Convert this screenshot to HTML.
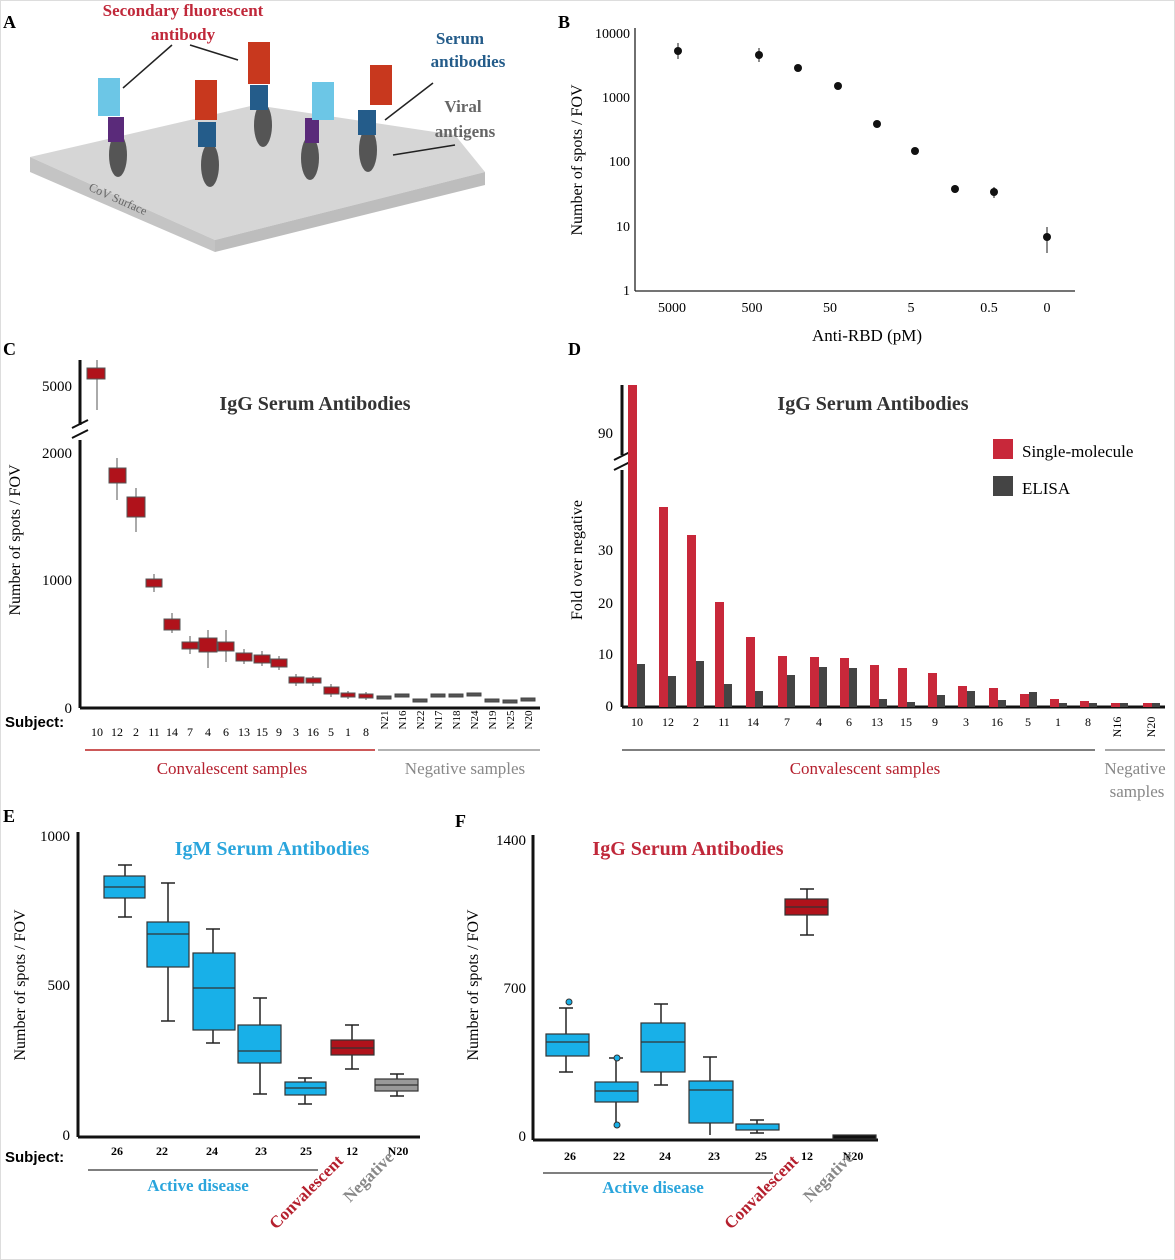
<!DOCTYPE html>
<html><head><meta charset="utf-8"><style>
body{margin:0;background:#fff}
svg{display:block;font-family:"Liberation Serif",serif}
</style></head><body>
<svg width="1175" height="1260" viewBox="0 0 1175 1260" xmlns="http://www.w3.org/2000/svg">
<rect x="0.5" y="0.5" width="1174" height="1259" fill="#fff" stroke="#ddd"/>
<g font-weight="bold" font-size="18">
<text x="3" y="28">A</text><text x="558" y="28">B</text><text x="3" y="355">C</text><text x="568" y="355">D</text><text x="3" y="822">E</text><text x="455" y="827">F</text>
</g>
<!-- Panel A -->
<polygon points="30,157 255,105 455,135 485,172 215,240" fill="#d6d6d6"/>
<polygon points="30,157 215,240 215,252 30,172" fill="#c4c4c4"/>
<polygon points="215,240 485,172 485,185 215,252" fill="#bdbdbd"/>
<text x="88" y="190" font-size="12" fill="#666" transform="rotate(24 88 190)">CoV Surface</text>
<g font-weight="bold" font-size="17">
<text x="183" y="16" fill="#c0283a" text-anchor="middle">Secondary fluorescent</text>
<text x="183" y="40" fill="#c0283a" text-anchor="middle">antibody</text>
<text x="460" y="44" fill="#245c8a" text-anchor="middle">Serum</text>
<text x="468" y="67" fill="#245c8a" text-anchor="middle">antibodies</text>
<text x="463" y="112" fill="#666" text-anchor="middle">Viral</text>
<text x="465" y="137" fill="#666" text-anchor="middle">antigens</text>
</g>
<g stroke="#222" stroke-width="1.5">
<line x1="172" y1="45" x2="123" y2="88"/><line x1="190" y1="45" x2="238" y2="60"/>
<line x1="433" y1="83" x2="385" y2="120"/><line x1="455" y1="145" x2="393" y2="155"/>
</g>
<g>
<g fill="#555"><ellipse cx="118" cy="155" rx="9" ry="22"/><ellipse cx="210" cy="165" rx="9" ry="22"/><ellipse cx="263" cy="125" rx="9" ry="22"/><ellipse cx="310" cy="158" rx="9" ry="22"/><ellipse cx="368" cy="150" rx="9" ry="22"/></g>
<g fill="#5a2a7a"><rect x="108" y="117" width="16" height="25"/><rect x="305" y="118" width="14" height="25"/></g>
<g fill="#245c8a"><rect x="198" y="122" width="18" height="25"/><rect x="250" y="85" width="18" height="25"/><rect x="358" y="110" width="18" height="25"/></g>
<g fill="#6cc6e6"><rect x="98" y="78" width="22" height="38"/><rect x="312" y="82" width="22" height="38"/></g>
<g fill="#c8381e"><rect x="195" y="80" width="22" height="40"/><rect x="248" y="42" width="22" height="42"/><rect x="370" y="65" width="22" height="40"/></g>
</g>
<!-- Panel B -->
<g stroke="#222" stroke-width="1.3" fill="none"><line x1="635" y1="28" x2="635" y2="291"/><line x1="635" y1="291" x2="1075" y2="291"/></g>
<g font-size="14" text-anchor="end"><text x="630" y="38">10000</text><text x="630" y="102">1000</text><text x="630" y="166">100</text><text x="630" y="231">10</text><text x="630" y="295">1</text></g>
<text transform="translate(582 160) rotate(-90)" font-size="16" text-anchor="middle">Number of spots / FOV</text>
<g font-size="14" text-anchor="middle"><text x="672" y="312">5000</text><text x="752" y="312">500</text><text x="830" y="312">50</text><text x="911" y="312">5</text><text x="989" y="312">0.5</text><text x="1047" y="312">0</text></g>
<text x="867" y="341" font-size="17" text-anchor="middle">Anti-RBD (pM)</text>
<g stroke="#666" stroke-width="1.5"><line x1="678" y1="43" x2="678" y2="59"/><line x1="759" y1="48" x2="759" y2="62"/><line x1="1047" y1="227" x2="1047" y2="253"/><line x1="955" y1="185" x2="955" y2="193"/><line x1="994" y1="187" x2="994" y2="198"/></g>
<g fill="#111"><circle cx="678" cy="51" r="4"/><circle cx="759" cy="55" r="4"/><circle cx="798" cy="68" r="4"/><circle cx="838" cy="86" r="4"/><circle cx="877" cy="124" r="4"/><circle cx="915" cy="151" r="4"/><circle cx="955" cy="189" r="4"/><circle cx="994" cy="192" r="4"/><circle cx="1047" cy="237" r="4"/></g>
<!-- Panel C -->
<g stroke="#111" stroke-width="3"><line x1="80" y1="360" x2="80" y2="425"/><line x1="80" y1="440" x2="80" y2="708"/><line x1="80" y1="708" x2="540" y2="708"/></g>
<g stroke="#111" stroke-width="2"><line x1="72" y1="428" x2="88" y2="420"/><line x1="72" y1="438" x2="88" y2="430"/></g>
<g font-size="15" text-anchor="end"><text x="72" y="391">5000</text><text x="72" y="458">2000</text><text x="72" y="585">1000</text><text x="72" y="713">0</text></g>
<text transform="translate(20 540) rotate(-90)" font-size="16" text-anchor="middle">Number of spots / FOV</text>
<text x="315" y="410" font-size="20" font-weight="bold" fill="#333" text-anchor="middle">IgG Serum Antibodies</text>
<text x="5" y="727" font-size="15" font-weight="bold" font-family="Liberation Sans,sans-serif">Subject:</text>
<g font-size="12" text-anchor="middle">
<text x="97" y="736">10</text><text x="117" y="736">12</text><text x="136" y="736">2</text><text x="154" y="736">11</text><text x="172" y="736">14</text><text x="190" y="736">7</text><text x="208" y="736">4</text><text x="226" y="736">6</text><text x="244" y="736">13</text><text x="262" y="736">15</text><text x="279" y="736">9</text><text x="296" y="736">3</text><text x="313" y="736">16</text><text x="331" y="736">5</text><text x="348" y="736">1</text><text x="366" y="736">8</text>
</g>
<g font-size="11" text-anchor="middle">
<text transform="translate(388 720) rotate(-90)">N21</text><text transform="translate(406 720) rotate(-90)">N16</text><text transform="translate(424 720) rotate(-90)">N22</text><text transform="translate(442 720) rotate(-90)">N17</text><text transform="translate(460 720) rotate(-90)">N18</text><text transform="translate(478 720) rotate(-90)">N24</text><text transform="translate(496 720) rotate(-90)">N19</text><text transform="translate(514 720) rotate(-90)">N25</text><text transform="translate(532 720) rotate(-90)">N20</text>
</g>
<line x1="85" y1="750" x2="375" y2="750" stroke="#b22" stroke-width="1.5"/>
<line x1="378" y1="750" x2="540" y2="750" stroke="#999" stroke-width="1.5"/>
<text x="232" y="774" font-size="17" fill="#b5202e" text-anchor="middle">Convalescent samples</text>
<text x="465" y="774" font-size="17" fill="#888" text-anchor="middle">Negative samples</text>
<g fill="#b0121b" stroke="#555" stroke-width="1">
<line x1="97" y1="360" x2="97" y2="410"/><rect x="87" y="368" width="18" height="11"/>
<line x1="117" y1="458" x2="117" y2="500"/><rect x="109" y="468" width="17" height="15"/>
<line x1="136" y1="488" x2="136" y2="532"/><rect x="127" y="497" width="18" height="20"/>
<line x1="154" y1="574" x2="154" y2="592"/><rect x="146" y="579" width="16" height="8"/>
<line x1="172" y1="613" x2="172" y2="633"/><rect x="164" y="619" width="16" height="11"/>
<line x1="190" y1="636" x2="190" y2="654"/><rect x="182" y="642" width="16" height="7"/>
<line x1="208" y1="630" x2="208" y2="668"/><rect x="199" y="638" width="18" height="14"/>
<line x1="226" y1="630" x2="226" y2="662"/><rect x="218" y="642" width="16" height="9"/>
<line x1="244" y1="649" x2="244" y2="664"/><rect x="236" y="653" width="16" height="8"/>
<line x1="262" y1="651" x2="262" y2="666"/><rect x="254" y="655" width="16" height="8"/>
<line x1="279" y1="656" x2="279" y2="670"/><rect x="271" y="659" width="16" height="8"/>
<line x1="296" y1="674" x2="296" y2="686"/><rect x="289" y="677" width="15" height="6"/>
<line x1="313" y1="676" x2="313" y2="686"/><rect x="306" y="678" width="15" height="5"/>
<line x1="331" y1="684" x2="331" y2="697"/><rect x="324" y="687" width="15" height="7"/>
<line x1="348" y1="691" x2="348" y2="699"/><rect x="341" y="693" width="14" height="4"/>
<line x1="366" y1="692" x2="366" y2="700"/><rect x="359" y="694" width="14" height="4"/>
</g>
<g fill="#555" stroke="#444">
<rect x="377" y="696" width="14" height="3"/><rect x="395" y="694" width="14" height="3"/><rect x="413" y="699" width="14" height="3"/><rect x="431" y="694" width="14" height="3"/><rect x="449" y="694" width="14" height="3"/><rect x="467" y="693" width="14" height="3"/><rect x="485" y="699" width="14" height="3"/><rect x="503" y="700" width="14" height="3"/><rect x="521" y="698" width="14" height="3"/>
</g>
<!-- Panel D -->
<g stroke="#111" stroke-width="3"><line x1="622" y1="385" x2="622" y2="455"/><line x1="622" y1="470" x2="622" y2="707"/><line x1="622" y1="707" x2="1165" y2="707"/></g>
<g stroke="#111" stroke-width="2"><line x1="614" y1="460" x2="630" y2="452"/><line x1="614" y1="470" x2="630" y2="462"/></g>
<g font-size="15" text-anchor="end"><text x="613" y="438">90</text><text x="613" y="555">30</text><text x="613" y="608">20</text><text x="613" y="659">10</text><text x="613" y="711">0</text></g>
<text transform="translate(582 560) rotate(-90)" font-size="16" text-anchor="middle">Fold over negative</text>
<text x="873" y="410" font-size="20" font-weight="bold" fill="#333" text-anchor="middle">IgG Serum Antibodies</text>
<rect x="993" y="439" width="20" height="20" fill="#c8283a"/><text x="1022" y="457" font-size="17">Single-molecule</text>
<rect x="993" y="476" width="20" height="20" fill="#444"/><text x="1022" y="494" font-size="17">ELISA</text>
<g fill="#c8283a">
<rect x="628" y="385" width="9" height="322"/><rect x="659" y="507" width="9" height="200"/><rect x="687" y="535" width="9" height="172"/><rect x="715" y="602" width="9" height="105"/><rect x="746" y="637" width="9" height="70"/><rect x="778" y="656" width="9" height="51"/><rect x="810" y="657" width="9" height="50"/><rect x="840" y="658" width="9" height="49"/><rect x="870" y="665" width="9" height="42"/><rect x="898" y="668" width="9" height="39"/><rect x="928" y="673" width="9" height="34"/><rect x="958" y="686" width="9" height="21"/><rect x="989" y="688" width="9" height="19"/><rect x="1020" y="694" width="9" height="13"/><rect x="1050" y="699" width="9" height="8"/><rect x="1080" y="701" width="9" height="6"/><rect x="1111" y="703" width="9" height="4"/><rect x="1143" y="703" width="9" height="4"/>
</g>
<g fill="#444">
<rect x="637" y="664" width="8" height="43"/><rect x="668" y="676" width="8" height="31"/><rect x="696" y="661" width="8" height="46"/><rect x="724" y="684" width="8" height="23"/><rect x="755" y="691" width="8" height="16"/><rect x="787" y="675" width="8" height="32"/><rect x="819" y="667" width="8" height="40"/><rect x="849" y="668" width="8" height="39"/><rect x="879" y="699" width="8" height="8"/><rect x="907" y="702" width="8" height="5"/><rect x="937" y="695" width="8" height="12"/><rect x="967" y="691" width="8" height="16"/><rect x="998" y="700" width="8" height="7"/><rect x="1029" y="692" width="8" height="15"/><rect x="1059" y="703" width="8" height="4"/><rect x="1089" y="703" width="8" height="4"/><rect x="1120" y="703" width="8" height="4"/><rect x="1152" y="703" width="8" height="4"/>
</g>
<g font-size="12" text-anchor="middle">
<text x="637" y="726">10</text><text x="668" y="726">12</text><text x="696" y="726">2</text><text x="724" y="726">11</text><text x="753" y="726">14</text><text x="787" y="726">7</text><text x="819" y="726">4</text><text x="849" y="726">6</text><text x="877" y="726">13</text><text x="906" y="726">15</text><text x="935" y="726">9</text><text x="966" y="726">3</text><text x="997" y="726">16</text><text x="1028" y="726">5</text><text x="1058" y="726">1</text><text x="1088" y="726">8</text>
<text transform="translate(1121 727) rotate(-90)">N16</text><text transform="translate(1155 727) rotate(-90)">N20</text>
</g>
<line x1="622" y1="750" x2="1095" y2="750" stroke="#555" stroke-width="1.5"/>
<line x1="1105" y1="750" x2="1165" y2="750" stroke="#888" stroke-width="1.5"/>
<text x="865" y="774" font-size="17" fill="#b5202e" text-anchor="middle">Convalescent samples</text>
<text x="1135" y="774" font-size="17" fill="#888" text-anchor="middle">Negative</text>
<text x="1137" y="797" font-size="17" fill="#888" text-anchor="middle">samples</text>
<!-- Panel E -->
<g stroke="#111" stroke-width="3"><line x1="78" y1="832" x2="78" y2="1137"/><line x1="78" y1="1137" x2="420" y2="1137"/></g>
<g font-size="15" text-anchor="end"><text x="70" y="841">1000</text><text x="70" y="990">500</text><text x="70" y="1140">0</text></g>
<text transform="translate(25 985) rotate(-90)" font-size="16" text-anchor="middle">Number of spots / FOV</text>
<text x="272" y="855" font-size="20" font-weight="bold" fill="#2aa5dc" text-anchor="middle">IgM Serum Antibodies</text>
<text x="5" y="1162" font-size="15" font-weight="bold" font-family="Liberation Sans,sans-serif">Subject:</text>
<g font-size="12" font-weight="bold" text-anchor="middle"><text x="117" y="1155">26</text><text x="162" y="1155">22</text><text x="212" y="1155">24</text><text x="261" y="1155">23</text><text x="306" y="1155">25</text><text x="352" y="1155">12</text><text x="398" y="1155">N20</text></g>
<line x1="88" y1="1170" x2="318" y2="1170" stroke="#555" stroke-width="1.5"/>
<text x="198" y="1191" font-size="17" font-weight="bold" fill="#2aa5dc" text-anchor="middle">Active disease</text>
<text transform="translate(276 1230) rotate(-45)" font-size="17" font-weight="bold" fill="#b5202e">Convalescent</text>
<text transform="translate(350 1203) rotate(-45)" font-size="17" font-weight="bold" fill="#888">Negative</text>
<g stroke="#222" stroke-width="1.5">
<line x1="125" y1="865" x2="125" y2="917"/><line x1="118" y1="865" x2="132" y2="865"/><line x1="118" y1="917" x2="132" y2="917"/>
<line x1="168" y1="883" x2="168" y2="1021"/><line x1="161" y1="883" x2="175" y2="883"/><line x1="161" y1="1021" x2="175" y2="1021"/>
<line x1="213" y1="929" x2="213" y2="1043"/><line x1="206" y1="929" x2="220" y2="929"/><line x1="206" y1="1043" x2="220" y2="1043"/>
<line x1="260" y1="998" x2="260" y2="1094"/><line x1="253" y1="998" x2="267" y2="998"/><line x1="253" y1="1094" x2="267" y2="1094"/>
<line x1="305" y1="1078" x2="305" y2="1104"/><line x1="298" y1="1078" x2="312" y2="1078"/><line x1="298" y1="1104" x2="312" y2="1104"/>
<line x1="352" y1="1025" x2="352" y2="1069"/><line x1="345" y1="1025" x2="359" y2="1025"/><line x1="345" y1="1069" x2="359" y2="1069"/>
<line x1="397" y1="1074" x2="397" y2="1096"/><line x1="390" y1="1074" x2="404" y2="1074"/><line x1="390" y1="1096" x2="404" y2="1096"/>
</g>
<g stroke="#333" stroke-width="1.2">
<rect x="104" y="876" width="41" height="22" fill="#18b0e8"/><line x1="104" y1="887" x2="145" y2="887"/>
<rect x="147" y="922" width="42" height="45" fill="#18b0e8"/><line x1="147" y1="934" x2="189" y2="934"/>
<rect x="193" y="953" width="42" height="77" fill="#18b0e8"/><line x1="193" y1="988" x2="235" y2="988"/>
<rect x="238" y="1025" width="43" height="38" fill="#18b0e8"/><line x1="238" y1="1051" x2="281" y2="1051"/>
<rect x="285" y="1082" width="41" height="13" fill="#18b0e8"/><line x1="285" y1="1088" x2="326" y2="1088"/>
<rect x="331" y="1040" width="43" height="15" fill="#b0121b"/><line x1="331" y1="1048" x2="374" y2="1048"/>
<rect x="375" y="1079" width="43" height="12" fill="#999"/><line x1="375" y1="1085" x2="418" y2="1085"/>
</g>
<!-- Panel F -->
<g stroke="#111" stroke-width="3"><line x1="533" y1="835" x2="533" y2="1140"/><line x1="533" y1="1140" x2="878" y2="1140"/></g>
<g font-size="15" text-anchor="end"><text x="526" y="845">1400</text><text x="526" y="993">700</text><text x="526" y="1141">0</text></g>
<text transform="translate(478 985) rotate(-90)" font-size="16" text-anchor="middle">Number of spots / FOV</text>
<text x="688" y="855" font-size="20" font-weight="bold" fill="#c0283a" text-anchor="middle">IgG Serum Antibodies</text>
<g font-size="12" font-weight="bold" text-anchor="middle"><text x="570" y="1160">26</text><text x="619" y="1160">22</text><text x="665" y="1160">24</text><text x="714" y="1160">23</text><text x="761" y="1160">25</text><text x="807" y="1160">12</text><text x="853" y="1160">N20</text></g>
<line x1="543" y1="1173" x2="773" y2="1173" stroke="#555" stroke-width="1.5"/>
<text x="653" y="1193" font-size="17" font-weight="bold" fill="#2aa5dc" text-anchor="middle">Active disease</text>
<text transform="translate(731 1230) rotate(-45)" font-size="17" font-weight="bold" fill="#b5202e">Convalescent</text>
<text transform="translate(810 1203) rotate(-45)" font-size="17" font-weight="bold" fill="#888">Negative</text>
<g stroke="#222" stroke-width="1.5">
<line x1="566" y1="1008" x2="566" y2="1072"/><line x1="559" y1="1008" x2="573" y2="1008"/><line x1="559" y1="1072" x2="573" y2="1072"/>
<line x1="616" y1="1058" x2="616" y2="1124"/><line x1="609" y1="1058" x2="623" y2="1058"/>
<line x1="661" y1="1004" x2="661" y2="1085"/><line x1="654" y1="1004" x2="668" y2="1004"/><line x1="654" y1="1085" x2="668" y2="1085"/>
<line x1="710" y1="1057" x2="710" y2="1135"/><line x1="703" y1="1057" x2="717" y2="1057"/>
<line x1="757" y1="1120" x2="757" y2="1133"/><line x1="750" y1="1120" x2="764" y2="1120"/><line x1="750" y1="1133" x2="764" y2="1133"/>
<line x1="807" y1="889" x2="807" y2="935"/><line x1="800" y1="889" x2="814" y2="889"/><line x1="800" y1="935" x2="814" y2="935"/>
</g>
<g stroke="#333" stroke-width="1.2">
<rect x="546" y="1034" width="43" height="22" fill="#18b0e8"/><line x1="546" y1="1042" x2="589" y2="1042"/>
<rect x="595" y="1082" width="43" height="20" fill="#18b0e8"/><line x1="595" y1="1091" x2="638" y2="1091"/>
<rect x="641" y="1023" width="44" height="49" fill="#18b0e8"/><line x1="641" y1="1042" x2="685" y2="1042"/>
<rect x="689" y="1081" width="44" height="42" fill="#18b0e8"/><line x1="689" y1="1090" x2="733" y2="1090"/>
<rect x="736" y="1124" width="43" height="6" fill="#18b0e8"/>
<rect x="785" y="899" width="43" height="16" fill="#b0121b"/><line x1="785" y1="907" x2="828" y2="907"/>
<rect x="833" y="1135" width="43" height="4" fill="#111"/>
</g>
<circle cx="569" cy="1002" r="3" fill="#18b0e8" stroke="#333"/><circle cx="617" cy="1058" r="3" fill="#18b0e8" stroke="#333"/><circle cx="617" cy="1125" r="3" fill="#18b0e8" stroke="#333"/>
</svg>
</body></html>
